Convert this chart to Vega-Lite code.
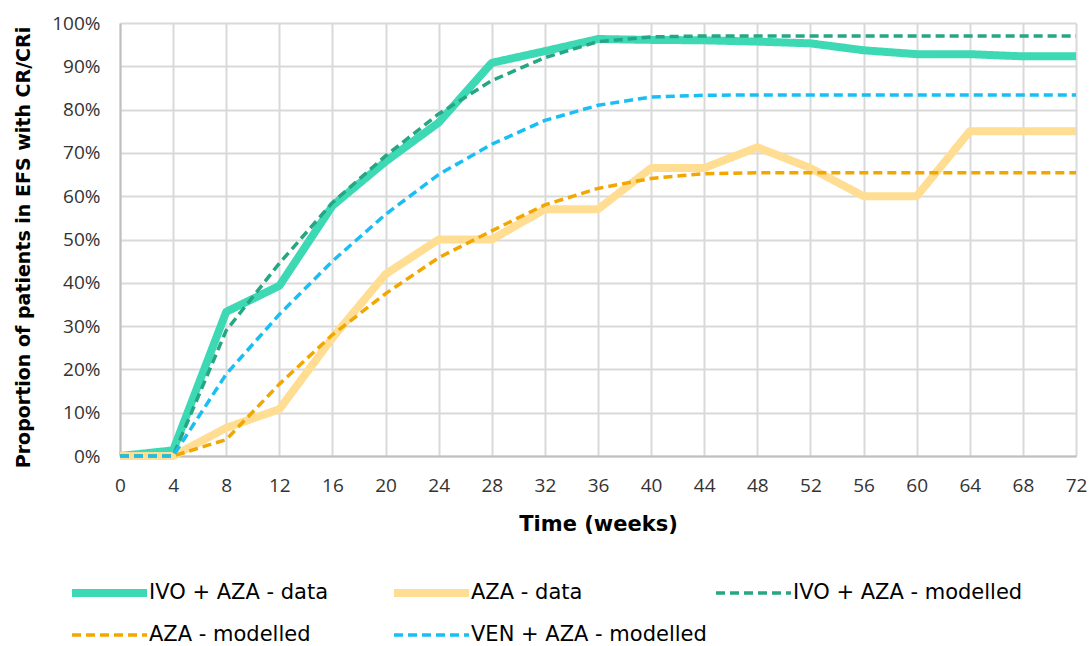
{
  "$schema": "https://vega.github.io/schema/vega-lite/v6.json",
  "width": 956,
  "height": 433,
  "autosize": "none",
  "padding": {"left": 120, "top": 23, "right": 16, "bottom": 190},
  "background": "white",
  "config": {"view": {"stroke": null}, "font": "DejaVu Sans"},
  "datasets": {
    "d": [
      {"series": "IVO + AZA - data", "week": 0, "pct": 0},
      {"series": "IVO + AZA - data", "week": 4, "pct": 1.3},
      {"series": "IVO + AZA - data", "week": 8, "pct": 33.3},
      {"series": "IVO + AZA - data", "week": 12, "pct": 39.3},
      {"series": "IVO + AZA - data", "week": 16, "pct": 57.8},
      {"series": "IVO + AZA - data", "week": 20, "pct": 68},
      {"series": "IVO + AZA - data", "week": 24, "pct": 77},
      {"series": "IVO + AZA - data", "week": 28, "pct": 90.8},
      {"series": "IVO + AZA - data", "week": 32, "pct": 93.5},
      {"series": "IVO + AZA - data", "week": 36, "pct": 96.3},
      {"series": "IVO + AZA - data", "week": 40, "pct": 96.1},
      {"series": "IVO + AZA - data", "week": 44, "pct": 96},
      {"series": "IVO + AZA - data", "week": 48, "pct": 95.7},
      {"series": "IVO + AZA - data", "week": 52, "pct": 95.3},
      {"series": "IVO + AZA - data", "week": 56, "pct": 93.7},
      {"series": "IVO + AZA - data", "week": 60, "pct": 92.8},
      {"series": "IVO + AZA - data", "week": 64, "pct": 92.8},
      {"series": "IVO + AZA - data", "week": 68, "pct": 92.3},
      {"series": "IVO + AZA - data", "week": 72, "pct": 92.3},
      {"series": "AZA - data", "week": 0, "pct": 0},
      {"series": "AZA - data", "week": 4, "pct": 0},
      {"series": "AZA - data", "week": 8, "pct": 6.5},
      {"series": "AZA - data", "week": 12, "pct": 10.8},
      {"series": "AZA - data", "week": 16, "pct": 27.3},
      {"series": "AZA - data", "week": 20, "pct": 42},
      {"series": "AZA - data", "week": 24, "pct": 50},
      {"series": "AZA - data", "week": 28, "pct": 50},
      {"series": "AZA - data", "week": 32, "pct": 57},
      {"series": "AZA - data", "week": 36, "pct": 57},
      {"series": "AZA - data", "week": 40, "pct": 66.5},
      {"series": "AZA - data", "week": 44, "pct": 66.5},
      {"series": "AZA - data", "week": 48, "pct": 71.3},
      {"series": "AZA - data", "week": 52, "pct": 66.5},
      {"series": "AZA - data", "week": 56, "pct": 60},
      {"series": "AZA - data", "week": 60, "pct": 60},
      {"series": "AZA - data", "week": 64, "pct": 75},
      {"series": "AZA - data", "week": 68, "pct": 75},
      {"series": "AZA - data", "week": 72, "pct": 75},
      {"series": "IVO + AZA - modelled", "week": 0, "pct": 0},
      {"series": "IVO + AZA - modelled", "week": 4, "pct": 0},
      {"series": "IVO + AZA - modelled", "week": 8, "pct": 29},
      {"series": "IVO + AZA - modelled", "week": 12, "pct": 44.5},
      {"series": "IVO + AZA - modelled", "week": 16, "pct": 58.5},
      {"series": "IVO + AZA - modelled", "week": 20, "pct": 69.3},
      {"series": "IVO + AZA - modelled", "week": 24, "pct": 79},
      {"series": "IVO + AZA - modelled", "week": 28, "pct": 86.7},
      {"series": "IVO + AZA - modelled", "week": 32, "pct": 92},
      {"series": "IVO + AZA - modelled", "week": 36, "pct": 95.7},
      {"series": "IVO + AZA - modelled", "week": 40, "pct": 96.8},
      {"series": "IVO + AZA - modelled", "week": 44, "pct": 97},
      {"series": "IVO + AZA - modelled", "week": 48, "pct": 97},
      {"series": "IVO + AZA - modelled", "week": 52, "pct": 97},
      {"series": "IVO + AZA - modelled", "week": 56, "pct": 97},
      {"series": "IVO + AZA - modelled", "week": 60, "pct": 97},
      {"series": "IVO + AZA - modelled", "week": 64, "pct": 97},
      {"series": "IVO + AZA - modelled", "week": 68, "pct": 97},
      {"series": "IVO + AZA - modelled", "week": 72, "pct": 97},
      {"series": "AZA - modelled", "week": 0, "pct": 0},
      {"series": "AZA - modelled", "week": 4, "pct": 0},
      {"series": "AZA - modelled", "week": 8, "pct": 3.8},
      {"series": "AZA - modelled", "week": 12, "pct": 16.6},
      {"series": "AZA - modelled", "week": 16, "pct": 28},
      {"series": "AZA - modelled", "week": 20, "pct": 37.5},
      {"series": "AZA - modelled", "week": 24, "pct": 45.8},
      {"series": "AZA - modelled", "week": 28, "pct": 52},
      {"series": "AZA - modelled", "week": 32, "pct": 58},
      {"series": "AZA - modelled", "week": 36, "pct": 61.8},
      {"series": "AZA - modelled", "week": 40, "pct": 64.1},
      {"series": "AZA - modelled", "week": 44, "pct": 65.2},
      {"series": "AZA - modelled", "week": 48, "pct": 65.4},
      {"series": "AZA - modelled", "week": 52, "pct": 65.4},
      {"series": "AZA - modelled", "week": 56, "pct": 65.4},
      {"series": "AZA - modelled", "week": 60, "pct": 65.4},
      {"series": "AZA - modelled", "week": 64, "pct": 65.4},
      {"series": "AZA - modelled", "week": 68, "pct": 65.4},
      {"series": "AZA - modelled", "week": 72, "pct": 65.4},
      {"series": "VEN + AZA - modelled", "week": 0, "pct": 0},
      {"series": "VEN + AZA - modelled", "week": 4, "pct": 0},
      {"series": "VEN + AZA - modelled", "week": 8, "pct": 18.9},
      {"series": "VEN + AZA - modelled", "week": 12, "pct": 32.7},
      {"series": "VEN + AZA - modelled", "week": 16, "pct": 45},
      {"series": "VEN + AZA - modelled", "week": 20, "pct": 55.8},
      {"series": "VEN + AZA - modelled", "week": 24, "pct": 65},
      {"series": "VEN + AZA - modelled", "week": 28, "pct": 72},
      {"series": "VEN + AZA - modelled", "week": 32, "pct": 77.5},
      {"series": "VEN + AZA - modelled", "week": 36, "pct": 81},
      {"series": "VEN + AZA - modelled", "week": 40, "pct": 82.9},
      {"series": "VEN + AZA - modelled", "week": 44, "pct": 83.3},
      {"series": "VEN + AZA - modelled", "week": 48, "pct": 83.4},
      {"series": "VEN + AZA - modelled", "week": 52, "pct": 83.4},
      {"series": "VEN + AZA - modelled", "week": 56, "pct": 83.4},
      {"series": "VEN + AZA - modelled", "week": 60, "pct": 83.4},
      {"series": "VEN + AZA - modelled", "week": 64, "pct": 83.4},
      {"series": "VEN + AZA - modelled", "week": 68, "pct": 83.4},
      {"series": "VEN + AZA - modelled", "week": 72, "pct": 83.4}
    ]
  },
  "data": {"name": "d"},
  "encoding": {
    "x": {
      "field": "week",
      "type": "quantitative",
      "scale": {"domain": [0, 72], "nice": false, "zero": false},
      "axis": {
        "values": [0, 4, 8, 12, 16, 20, 24, 28, 32, 36, 40, 44, 48, 52, 56, 60, 64, 68, 72],
        "title": "Time (weeks)",
        "titleFont": "DejaVu Sans",
        "titleFontWeight": "bold",
        "titleFontSize": 21,
        "titleColor": "#000000",
        "titleY": 57,
        "labelFont": "Open Sans",
        "labelFontSize": 19,
        "labelColor": "#333333",
        "labelPadding": 20,
        "labelFlush": false,
        "labelOverlap": false,
        "ticks": false,
        "domainColor": "#BFBFBF",
        "domainWidth": 2,
        "grid": true,
        "gridColor": "#D9D9D9",
        "gridWidth": 2
      }
    },
    "y": {
      "field": "pct",
      "type": "quantitative",
      "scale": {"domain": [0, 100], "nice": false},
      "axis": {
        "values": [0, 10, 20, 30, 40, 50, 60, 70, 80, 90, 100],
        "labelExpr": "datum.value + '%'",
        "title": "Proportion of patients in EFS with CR/CRi",
        "titleFont": "DejaVu Sans",
        "titleFontWeight": "bold",
        "titleFontSize": 19,
        "titleColor": "#000000",
        "titleX": -87,
        "titleY": 224,
        "labelFont": "Open Sans",
        "labelFontSize": 19,
        "labelColor": "#333333",
        "labelPadding": 20,
        "labelFlush": false,
        "labelOverlap": false,
        "ticks": false,
        "domainColor": "#BFBFBF",
        "domainWidth": 2,
        "grid": true,
        "gridColor": "#D9D9D9",
        "gridWidth": 2
      }
    },
    "color": {
      "field": "series",
      "type": "nominal",
      "scale": {
        "domain": ["IVO + AZA - data", "AZA - data", "IVO + AZA - modelled", "AZA - modelled", "VEN + AZA - modelled"],
        "range": ["#3DD8B4", "#FFDD92", "#26A683", "#F2A700", "#19BEF5"]
      },
      "legend": {
        "title": null,
        "orient": "none",
        "legendX": -48,
        "legendY": 558,
        "direction": "horizontal",
        "columns": 3,
        "gridAlign": "all",
        "columnPadding": 9,
        "rowPadding": 18,
        "clipHeight": 24,
        "padding": 0,
        "symbolType": "stroke",
        "symbolSize": 5625,
        "symbolOffset": 27,
        "labelFont": "DejaVu Sans",
        "labelFontSize": 21,
        "labelColor": "#000000",
        "labelOffset": 29,
        "labelLimit": 400,
        "encode": {
          "symbols": {
            "update": {
              "strokeWidth": {"signal": "indexof(['IVO + AZA - data', 'AZA - data'], datum.value) >= 0 ? 8 : 3.5"}
            }
          }
        }
      }
    },
    "strokeDash": {
      "field": "series",
      "type": "nominal",
      "scale": {
        "domain": ["IVO + AZA - data", "AZA - data", "IVO + AZA - modelled", "AZA - modelled", "VEN + AZA - modelled"],
        "range": [[1, 0], [1, 0], [9, 5], [9, 5], [9, 5]]
      }
    }
  },
  "layer": [
    {
      "transform": [{"filter": {"field": "series", "oneOf": ["IVO + AZA - data", "AZA - data"]}}],
      "mark": {"type": "line", "strokeWidth": 8, "strokeJoin": "round"}
    },
    {
      "transform": [{"filter": {"field": "series", "oneOf": ["IVO + AZA - modelled", "AZA - modelled", "VEN + AZA - modelled"]}}],
      "mark": {"type": "line", "strokeWidth": 3.5, "strokeJoin": "round"}
    }
  ]
}
